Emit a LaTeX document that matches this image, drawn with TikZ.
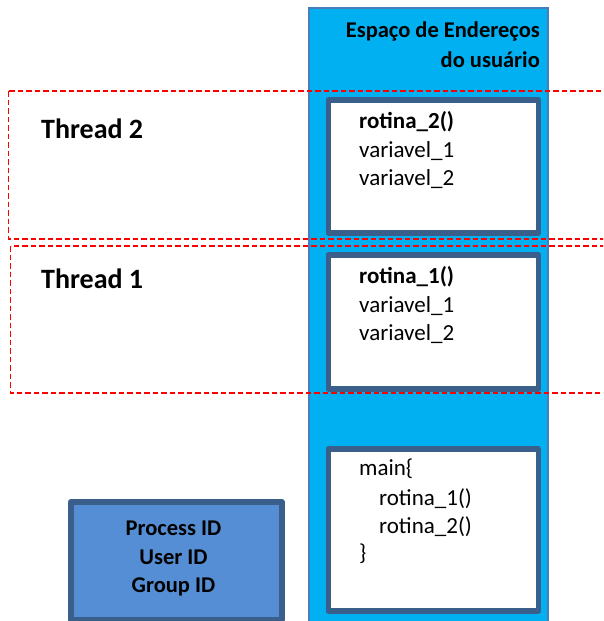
\documentclass[tikz,border=0pt]{standalone}
\usepackage{fontspec}
\setmainfont{Carlito}
\usetikzlibrary{positioning}
\definecolor{espaco}{HTML}{00B0F0}
\definecolor{contorno}{HTML}{4A7EBB}
\definecolor{borda}{HTML}{3A5F8B}
\definecolor{processo}{HTML}{558ED5}
\tikzset{
	caixa/.style={draw=borda, line width=5.5pt, line join=round, fill=white, anchor=north west, inner sep=0pt, minimum width=210pt},
	linha/.style={anchor=base west, inner sep=0pt, font=\fontsize{23}{27}\selectfont},
	titulo/.style={anchor=base east, inner sep=0pt, font=\fontsize{22.5}{27}\selectfont\bfseries},
	rotulo/.style={anchor=base west, inner sep=0pt, font=\fontsize{28}{32}\selectfont\bfseries},
	tracejado/.style={draw=red, line width=1.8pt, dash pattern=on 5.5pt off 3pt}
}
\begin{document}
\begin{tikzpicture}[x=1pt, y=-1pt]
		%%%%% START %%%%%
		\useasboundingbox (0,0) rectangle (603,621);
		\clip (0,0) rectangle (603,621);
		
		\draw[fill=espaco, draw=contorno, line width=1.5pt] (309,8) rectangle (548,640);
		\node[titulo] (tit1) at (540,37) {Espaço de Endereços};
		\node[titulo] (tit2) at (540,67) {do usuário};
		
		\node[caixa, minimum height=133pt] (caixa2) at (325.5,97) {};
		\node[linha] (r2) at (359,128) {\textbf{rotina\_2()}};
		\node[linha] (v21) at (359,157) {variavel\_1};
		\node[linha] (v22) at (359,185) {variavel\_2};
		
		\node[caixa, minimum height=134pt] (caixa1) at (325.5,252) {};
		\node[linha] (r1) at (359,283) {\textbf{rotina\_1()}};
		\node[linha] (v11) at (359,312) {variavel\_1};
		\node[linha] (v12) at (359,340) {variavel\_2};
		
		\node[caixa, minimum height=162pt] (caixamain) at (325.5,446) {};
		\node[linha] (m0) at (359,475) {main\{};
		\node[linha] (m1) at (379,505) {rotina\_1()};
		\node[linha] (m2) at (379,533) {rotina\_2()};
		\node[linha] (m3) at (359,560) {\}};
		
		\node[caixa, fill=processo, minimum width=211pt, minimum height=118pt] (proc) at (68,499) {};
		\node[anchor=base, inner sep=0pt, font=\fontsize{22.5}{27}\selectfont\bfseries] (pid) at (173.5,535) {Process ID};
		\node[anchor=base, inner sep=0pt, font=\fontsize{22.5}{27}\selectfont\bfseries] (uid) at (173.5,564) {User ID};
		\node[anchor=base, inner sep=0pt, font=\fontsize{22.5}{27}\selectfont\bfseries] (gid) at (173.5,592) {Group ID};
		
		\draw[tracejado] (8.5,91) rectangle (620,239);
		\node[rotulo] (t2) at (41,138) {Thread 2};
		\draw[tracejado] (10.5,246) rectangle (620,393);
		\node[rotulo] (t1) at (41,288) {Thread 1};
		%%%%% END %%%%%
	\end{tikzpicture}
\end{document}
